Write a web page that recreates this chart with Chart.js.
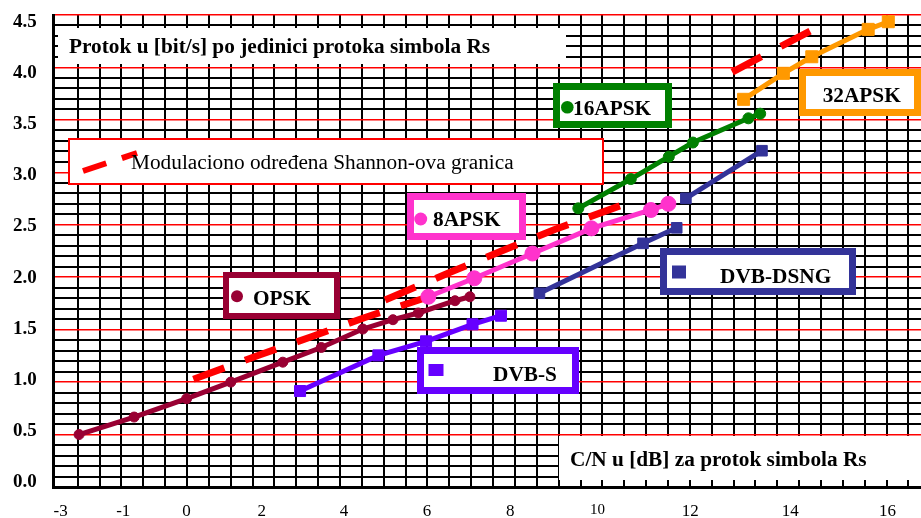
<!DOCTYPE html>
<html><head><meta charset="utf-8">
<script src="https://cdn.jsdelivr.net/npm/chart.js@4.4.1/dist/chart.umd.min.js"></script>
<style>
html,body{margin:0;padding:0;background:#fff;overflow:hidden;}
#wrap{position:relative;width:921px;height:518px;overflow:hidden;}
#c{position:absolute;left:0;top:0;}
.box{position:absolute;box-sizing:border-box;background:#fff;border-style:solid;border-width:0;}
.t{position:absolute;font-family:"Liberation Serif","Times New Roman",serif;font-size:21.3px;line-height:21.3px;font-weight:bold;color:#000;white-space:nowrap;}
.r{font-weight:normal;}
svg{position:absolute;left:0;top:0;}
</style></head><body>
<div id="wrap">
<canvas id="c" width="921" height="518"></canvas>
<div class="box" style="left:58px;top:27.5px;width:508px;height:36.5px"></div>
<div class="box" style="left:68px;top:138px;width:536px;height:47px;border:2px solid #FF0000"></div>
<div class="box" style="left:559px;top:436px;width:362px;height:44px"></div>
<div class="box" style="left:223px;top:272px;width:117px;height:47px;border:6px solid #990033"></div>
<div class="box" style="left:407px;top:193px;width:119px;height:47px;border:7px solid #FF33CC"></div>
<div class="box" style="left:553px;top:83px;width:119px;height:45px;border:7px solid #008000"></div>
<div class="box" style="left:799px;top:69px;width:122px;height:47px;border:7px solid #FF9900"></div>
<div class="box" style="left:660px;top:248px;width:196px;height:47px;border:7px solid #333399"></div>
<div class="box" style="left:417px;top:347px;width:162px;height:47px;border:7px solid #6600FF"></div>
<svg width="921" height="518">
 <line x1="83" y1="171" x2="137" y2="153" stroke="#FF0000" stroke-width="6" stroke-dasharray="24.5 16.5"/>
 <circle cx="237" cy="296.3" r="6" fill="#990033"/>
 <circle cx="420.7" cy="219" r="6.5" fill="#FF33CC"/>
 <circle cx="567.3" cy="107.3" r="6.3" fill="#008000"/>
 <rect x="672" y="265.5" width="14" height="13" fill="#333399"/>
 <rect x="428.5" y="364" width="15" height="12" fill="#6600FF"/>
</svg>
<span class="t" style="left:69px;top:35.5px">Protok u [bit/s] po jedinici protoka simbola Rs</span>
<span class="t r" style="left:131px;top:151.5px">Modulaciono određena Shannon-ova granica</span>
<span class="t" style="left:570px;top:448.5px">C/N u [dB] za protok simbola Rs</span>
<span class="t" style="left:253px;top:288.3px">OPSK</span>
<span class="t" style="left:433px;top:208.8px">8APSK</span>
<span class="t" style="left:573px;top:97.8px">16APSK</span>
<span class="t" style="left:822.7px;top:84.5px">32APSK</span>
<span class="t" style="left:720px;top:266.2px">DVB-DSNG</span>
<span class="t" style="left:493px;top:363.5px">DVB-S</span>
</div>
<script>
// ---- data (C/N in dB, spectral efficiency in bit/s per symbol) ----
const qpskCN   = [-2.47, -1.21, -0.01, 1.00, 2.19, 3.07, 4.02, 4.71, 5.29, 6.13, 6.47];
const qpskEff  = [0.50, 0.667, 0.842, 1.00, 1.19, 1.33, 1.506, 1.595, 1.659, 1.776, 1.814];
const apsk8CN  = [5.52, 6.57, 7.90, 9.25, 10.61, 11.01];
const apsk8Eff = [1.814, 1.99, 2.226, 2.466, 2.641, 2.70];
const apsk16CN  = [8.95, 10.15, 11.02, 11.57, 12.84, 13.11];
const apsk16Eff = [2.657, 2.936, 3.149, 3.284, 3.515, 3.559];
const apsk32CN  = [12.73, 13.64, 14.29, 15.58, 16.04];
const apsk32Eff = [3.696, 3.944, 4.102, 4.363, 4.436];
const dvbsCN  = [2.585, 4.376, 5.467, 6.53, 7.18];
const dvbsEff = [0.915, 1.255, 1.389, 1.551, 1.633];
const dsng8CN  = [8.06, 10.43, 11.20];
const dsng8Eff = [1.847, 2.323, 2.471];
const dsng16CN  = [11.41, 13.15];
const dsng16Eff = [2.752, 3.206];
const shQpskCN  = [0.145, 1.67, 2.86, 4.07, 5.51];
const shQpskEff = [1.027, 1.261, 1.435, 1.616, 1.811];
const sh8CN  = [4.53, 6.06, 7.22, 8.41, 9.95];
const sh8Eff = [1.783, 2.054, 2.255, 2.455, 2.688];
const sh32CN  = [12.47, 14.25];
const sh32Eff = [3.956, 4.347];

// ---- tick labels ----
const xTickLabels = ['-3', '-1', '0', '2', '4', '6', '8', '10', '12', '14', '16'];
const xTickLabelAt = [-2.89, -1.46, -0.01, 1.71, 3.59, 5.49, 7.39, 9.39, 11.51, 13.80, 16.02];
const yTickLabels = ['0.0', '0.5', '1.0', '1.5', '2.0', '2.5', '3.0', '3.5', '4.0', '4.5'];
const yTickLabelAt = [0, 0.5, 1.0, 1.5, 2.0, 2.5, 3.0, 3.5, 4.0, 4.5];

// grid positions
const gridX = []; for (let k = -5; k <= 33; k++) gridX.push(k / 2);
const gridY = []; for (let k = 0; k <= 45; k++) gridY.push(k / 10);

const pts = (xs, ys) => xs.map((x, i) => ({ x: x, y: ys[i] }));
const serif = '"Liberation Serif","Times New Roman",serif';
const noPad = s => { s.paddingTop = 0; s.paddingBottom = 0; s.paddingLeft = 0; s.paddingRight = 0; };

function series(xs, ys, color, style, radius) {
  return {
    data: pts(xs, ys), borderColor: color, backgroundColor: color,
    borderWidth: 5, tension: 0, pointStyle: style, pointRadius: radius,
    pointBorderWidth: 1, pointBorderColor: color, pointBackgroundColor: color, clip: false
  };
}
function bound(xs, ys) {
  return {
    data: pts(xs, ys), borderColor: '#FF0000', borderWidth: 7, borderDash: [33, 22],
    borderCapStyle: 'butt', pointRadius: 0, tension: 0, order: 10
  };
}

new Chart(document.getElementById('c'), {
  type: 'line',
  data: {
    datasets: [
      series(qpskCN, qpskEff, '#990033', 'circle', 5),
      series(apsk8CN, apsk8Eff, '#FF33CC', 'circle', 7.5),
      series(apsk16CN, apsk16Eff, '#008000', 'circle', 5.5),
      series(apsk32CN, apsk32Eff, '#FF9900', 'rect', 8.5),
      series(dvbsCN, dvbsEff, '#6600FF', 'rect', 7.8),
      series(dsng8CN, dsng8Eff, '#333399', 'rect', 7.5),
      series(dsng16CN, dsng16Eff, '#333399', 'rect', 7.5),
      bound(shQpskCN, shQpskEff),
      bound(sh8CN, sh8Eff),
      bound(sh32CN, sh32Eff)
    ]
  },
  options: {
    responsive: false, animation: false, devicePixelRatio: 1,
    layout: { autoPadding: false, padding: { top: 15, left: 0, right: 0, bottom: 0 } },
    plugins: { legend: { display: false }, tooltip: { enabled: false } },
    scales: {
      x: {
        type: 'linear', position: 'bottom', weight: 0, min: -3.05, max: 16.788,
        afterBuildTicks: s => { s.ticks = gridX.map(v => ({ value: v })); },
        grid: { color: '#000', lineWidth: 2, drawTicks: true, tickLength: 2, tickColor: '#000', tickWidth: 2 },
        border: { display: true, color: '#000', width: 3 },
        ticks: { display: false },
        afterFit: s => { s.height = 0; noPad(s); }
      },
      xl: {
        type: 'linear', position: 'bottom', weight: 1, min: -3.05, max: 16.788,
        afterBuildTicks: s => { s.ticks = xTickLabelAt.map(v => ({ value: v })); },
        grid: { display: false, drawTicks: false },
        border: { display: false },
        ticks: {
          autoSkip: false, maxRotation: 0, minRotation: 0, padding: 14, color: '#000',
          callback: (v, i) => xTickLabels[i],
          font: ctx => ({ family: serif, size: xTickLabels[ctx.index] === '10' ? 15 : 17 })
        },
        afterFit: s => { s.height = 31; noPad(s); }
      },
      y: {
        type: 'linear', position: 'left', weight: 0, min: 0, max: 4.5,
        afterBuildTicks: s => { s.ticks = gridY.map(v => ({ value: v })); },
        grid: {
          drawTicks: false,
          color: ctx => { const k = Math.round(ctx.tick.value * 10); return (k % 5 === 0 && k > 0) ? '#FF0000' : '#000'; },
          lineWidth: ctx => { const k = Math.round(ctx.tick.value * 10); return (k % 5 === 0 && k > 0) ? 1.6 : 2; }
        },
        border: { display: true, color: '#000', width: 3 },
        ticks: { display: false },
        afterFit: s => { s.width = 0; noPad(s); }
      },
      yl: {
        type: 'linear', position: 'left', weight: 1, min: -0.049, max: 4.571,
        afterBuildTicks: s => { s.ticks = yTickLabelAt.map(v => ({ value: v })); },
        grid: { display: false, drawTicks: false },
        border: { display: false },
        ticks: {
          autoSkip: false, padding: 17, color: '#000',
          callback: (v, i) => yTickLabels[i],
          font: { family: serif, size: 19, weight: 'bold' }
        },
        afterFit: s => { s.width = 53.7; noPad(s); }
      }
    }
  }
});
</script>
</body></html>
